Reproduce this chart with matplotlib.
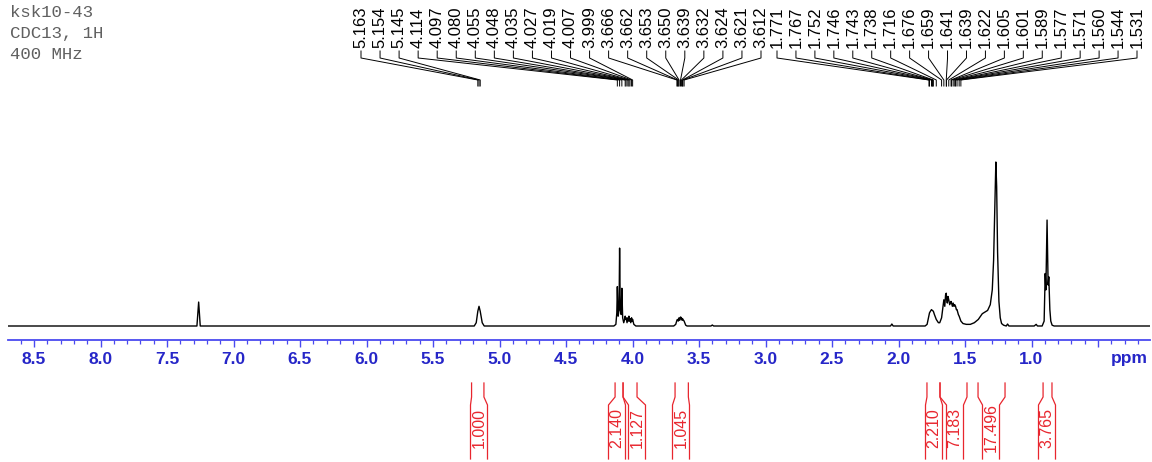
"""
1H NMR spectrum (ksk10-43, CDCl3, 400 MHz) in the usual Bruker print style:
peak-pick labels on top, blue ppm axis, red integrals below.
"""

import matplotlib
matplotlib.use('Agg')
import matplotlib.pyplot as plt
import numpy as np

plt.rcParams['font.family'] = ['Liberation Sans', 'DejaVu Sans']

W, H = 1152, 462

# ── Data ────────────────────────────────────────────────────────────────────
title_lines = ['ksk10-43', 'CDC13, 1H', '400 MHz']

# spectrum trace: chemical shift (ppm) and relative intensity (tallest = 1)
trace_ppm = [
    8.70, 7.275, 7.262, 7.250,
    5.19, 5.175, 5.163, 5.154, 5.145, 5.130, 5.115,
    4.140, 4.125, 4.118, 4.114, 4.108, 4.101, 4.097, 4.092, 4.085, 4.080,
    4.074, 4.066, 4.059, 4.055, 4.051, 4.048, 4.041, 4.035, 4.031, 4.027,
    4.023, 4.019, 4.013, 4.007, 4.003, 3.999, 3.990, 3.975,
    3.690, 3.675, 3.666, 3.662, 3.656, 3.653, 3.650, 3.645, 3.639, 3.632,
    3.627, 3.624, 3.621, 3.612, 3.600, 3.590,
    3.410, 3.400, 3.390,
    2.060, 2.050, 2.040,
    1.800, 1.785, 1.775, 1.767, 1.760, 1.752, 1.746, 1.738, 1.730, 1.716,
    1.700, 1.690, 1.676, 1.668, 1.659, 1.652, 1.646, 1.641, 1.639, 1.633,
    1.628, 1.622, 1.615, 1.605, 1.601, 1.595, 1.589, 1.583, 1.577, 1.571,
    1.565, 1.560, 1.550, 1.544, 1.531, 1.515, 1.490, 1.460, 1.430, 1.400,
    1.370, 1.350, 1.330, 1.310, 1.295, 1.285, 1.275, 1.268, 1.262, 1.255,
    1.245, 1.235, 1.225, 1.210, 1.190, 1.180, 1.170,
    0.980, 0.965, 0.955,
    0.920, 0.905, 0.897, 0.892, 0.883, 0.875, 0.870, 0.862, 0.855, 0.845,
    0.830, 0.100,
]
trace_int = [
    0.0, 0.0, 0.146, 0.0,
    0.0, 0.02, 0.09, 0.12, 0.09, 0.02, 0.0,
    0.0, 0.01, 0.08, 0.24, 0.06, 0.10, 0.475, 0.10, 0.07, 0.23,
    0.05, 0.02, 0.04, 0.06, 0.04, 0.05, 0.02, 0.05, 0.03, 0.06,
    0.03, 0.045, 0.02, 0.05, 0.03, 0.04, 0.01, 0.0,
    0.0, 0.01, 0.035, 0.04, 0.03, 0.045, 0.05, 0.035, 0.055, 0.05,
    0.035, 0.045, 0.04, 0.03, 0.005, 0.0,
    0.0, 0.006, 0.0,
    0.0, 0.012, 0.0,
    0.0, 0.01, 0.05, 0.08, 0.09, 0.10, 0.095, 0.09, 0.07, 0.04,
    0.02, 0.02, 0.05, 0.10, 0.16, 0.12, 0.19, 0.20, 0.17, 0.14,
    0.18, 0.16, 0.13, 0.15, 0.14, 0.12, 0.14, 0.12, 0.13, 0.12,
    0.10, 0.10, 0.07, 0.06, 0.03, 0.015, 0.01, 0.01, 0.02, 0.04,
    0.075, 0.085, 0.095, 0.13, 0.22, 0.40, 0.75, 1.0, 0.85, 0.45,
    0.15, 0.05, 0.015, 0.005, 0.0, 0.012, 0.0,
    0.0, 0.01, 0.0,
    0.0, 0.03, 0.32, 0.22, 0.646, 0.25, 0.30, 0.10, 0.03, 0.005,
    0.0, 0.0,
]

# peak-pick labels (two groups)
peaks_a = [5.163, 5.154, 5.145, 4.114, 4.097, 4.080, 4.055, 4.048, 4.035,
           4.027, 4.019, 4.007, 3.999, 3.666, 3.662, 3.653, 3.650, 3.639,
           3.632, 3.624, 3.621, 3.612]
peaks_b = [1.771, 1.767, 1.752, 1.746, 1.743, 1.738, 1.716, 1.676, 1.659,
           1.641, 1.639, 1.622, 1.605, 1.601, 1.589, 1.577, 1.571, 1.560,
           1.544, 1.531]

# integrals: region bounds (ppm) and values
integ_hi = [5.21, 4.131, 4.071, 3.68, 1.786, 1.688, 1.402, 0.913]
integ_lo = [5.117, 4.071, 3.966, 3.58, 1.688, 1.485, 1.199, 0.846]
integ_val = ['1.000', '2.140', '1.127', '1.045', '2.210', '7.183', '17.496', '3.765']

tick_vals = [8.5, 8.0, 7.5, 7.0, 6.5, 6.0, 5.5, 5.0, 4.5, 4.0, 3.5, 3.0,
             2.5, 2.0, 1.5, 1.0, 0.5]

# ── Layout ──────────────────────────────────────────────────────────────────
AX_L, AX_R = 8, 1150          # pixel extent of the ppm axis
PX_PER_PPM = 133.0
XMAX = 8.5 + (34 - AX_L) / PX_PER_PPM
XMIN = 8.5 - (AX_R - 34) / PX_PER_PPM
AXIS_Y, BASE_Y, TOP_Y, UNIT_PX = 340, 326, 100, 164

BLUE_LINE = '#4a4af0'
BLUE_TEXT = '#2626c8'
RED = '#e8262e'


def ppm2px(d):
    return AX_L + (XMAX - d) / (XMAX - XMIN) * (AX_R - AX_L)


fig = plt.figure(figsize=(W / 100, H / 100), dpi=100)

# ── Spectrum axes ───────────────────────────────────────────────────────────
ax = fig.add_axes([AX_L / W, 1 - AXIS_Y / H, (AX_R - AX_L) / W, (AXIS_Y - TOP_Y) / H])
ax.plot(trace_ppm, trace_int, color='black', linewidth=1.0)
ax.set_xlim(XMAX, XMIN)
ax.set_ylim(-(AXIS_Y - BASE_Y) / UNIT_PX, (BASE_Y - TOP_Y) / UNIT_PX)
for s in ('top', 'left', 'right'):
    ax.spines[s].set_visible(False)
ax.spines['bottom'].set_color(BLUE_LINE)
ax.spines['bottom'].set_linewidth(1.3)
ax.set_yticks([])
ax.set_xticks(tick_vals)
ax.set_xticklabels([f'{v:.1f}' if v >= 1.0 else '' for v in tick_vals],
                   fontweight='bold')
ax.set_xticks(np.round(np.arange(0.2, 8.65, 0.1), 1), minor=True)
ax.tick_params(axis='x', which='major', length=5, width=1.0, color=BLUE_LINE,
               labelcolor=BLUE_TEXT, labelsize=12.5, pad=3.5)
ax.tick_params(axis='x', which='minor', length=2.8, width=0.9, color=BLUE_LINE)
ax.patch.set_alpha(0)

# ── Overlay in pixel coordinates ────────────────────────────────────────────
ov = fig.add_axes([0, 0, 1, 1])
ov.set_xlim(0, W)
ov.set_ylim(H, 0)
ov.axis('off')
ov.patch.set_alpha(0)

ov.text(1148, 351, 'ppm', ha='right', va='top', fontsize=12.5,
        fontweight='bold', color=BLUE_TEXT)

for i, line in enumerate(title_lines):
    ov.text(10, 5 + i * 21, line, ha='left', va='top', fontsize=12.5,
            family=['Liberation Mono', 'DejaVu Sans Mono'], color='#606060')

# peak labels with leader lines
label_x = list(np.linspace(361, 761, len(peaks_a))) + \
          list(np.linspace(777, 1137, len(peaks_b)))
for xl, d in zip(label_x, peaks_a + peaks_b):
    ov.text(xl, 48, f'{d:.3f}', rotation=90, ha='center', va='bottom',
            fontsize=12, color='black')
    xp = ppm2px(d)
    ov.plot([xl, xl, xp, xp], [51, 58, 80, 86], color='black', linewidth=0.7)

# integrals
integ_label_x = [479, 617, 637, 681, 934, 955, 991, 1047]
for hi, lo, val, xc in zip(integ_hi, integ_lo, integ_val, integ_label_x):
    xa, xb = ppm2px(hi), ppm2px(lo)
    ov.plot([xa, xa, xc - 8.5, xc - 8.5], [383, 397, 405, 459],
            color=RED, linewidth=0.9)
    ov.plot([xb, xb, xc + 8.5, xc + 8.5], [383, 397, 405, 459],
            color=RED, linewidth=0.9)
    ov.text(xc, 428, val, rotation=90, ha='center', va='center',
            fontsize=11.5, color=RED)

fig.savefig('out.png', dpi=100)
plt.close(fig)
